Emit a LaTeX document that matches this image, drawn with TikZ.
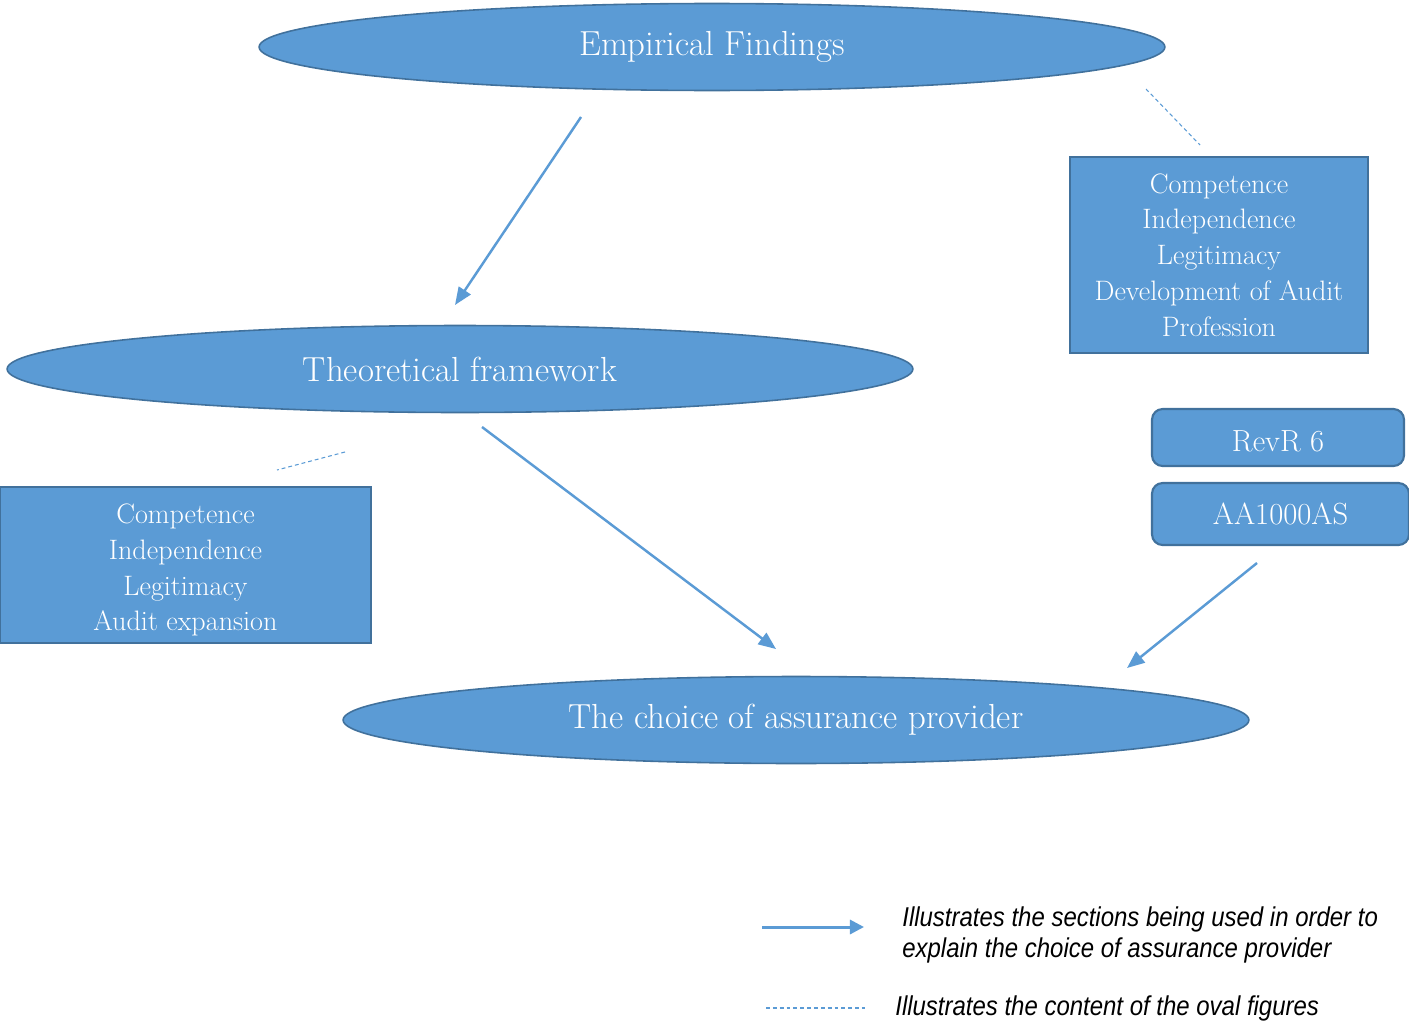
\documentclass[tikz,border=0pt]{standalone}
\usepackage{fontspec}
\newfontfamily\legendfont[FakeStretch=0.88]{Liberation Sans}
\usetikzlibrary{arrows.meta,shapes.geometric}
\definecolor{ovalblue}{HTML}{5B9BD5}
\definecolor{ovaledge}{HTML}{41719C}

\begin{document}
\begin{tikzpicture}[x=0.02cm, y=-0.02cm,
    oval/.style={ellipse, draw=ovaledge, line width=0.9pt, fill=ovalblue, text=white,
        minimum width=18.12cm, minimum height=1.74cm, inner sep=0pt,
        font=\fontsize{19.8}{22}\selectfont},
    box/.style={rectangle, draw=ovaledge, line width=1.2pt, fill=ovalblue, text=white,
        align=center, inner sep=0pt, font=\fontsize{16}{20.4}\selectfont},
    tag/.style={rectangle, rounded corners=6pt, draw=ovaledge, line width=1.2pt,
        fill=ovalblue, text=white, inner sep=0pt, font=\fontsize{17.4}{20}\selectfont},
    flow/.style={draw=ovalblue, line width=1.4pt, -{Triangle[length=10pt,width=8pt]}},
    content/.style={draw=ovalblue, line width=0.6pt, dash pattern=on 2.2pt off 1.7pt},
    legendtext/.style={anchor=west, align=left, inner sep=0pt,
        font=\legendfont\itshape\fontsize{15.5}{18}\selectfont},
]
    \useasboundingbox (0,0) rectangle (1409,1021);

    % Oval nodes
    \path
    (712, 47) node[oval] (EF) {Empirical Findings}
    (460, 369) node[oval] (TF) {Theoretical framework}
    (796, 720) node[oval] (CP) {The choice of assurance provider}
    ;

    % Content boxes
    \path
    (1219, 255) node[box, minimum width=5.96cm, minimum height=3.92cm] (EFbox)
        {Competence\\Independence\\Legitimacy\\Development of Audit\\Profession}
    (185.5, 565) node[box, minimum width=7.42cm, minimum height=3.12cm] (TFbox)
        {\rule{0pt}{17pt}Competence\\Independence\\Legitimacy\\Audit expansion}
    (1278, 437.5) node[tag, minimum width=5.04cm, minimum height=1.14cm] (RevR)
        {\rule{0pt}{16.5pt}RevR 6}
    (1280.5, 514) node[tag, minimum width=5.14cm, minimum height=1.24cm] (AA) {AA1000AS}
    ;

    % Arrow ends
    \coordinate (EFout) at (581, 117);
    \coordinate (TFin) at (455, 305);
    \coordinate (TFout) at (482, 427);
    \coordinate (CPin) at (776, 649);
    \coordinate (AAout) at (1257, 563);
    \coordinate (CPright) at (1127, 668);
    \coordinate (EFdash) at (1146, 89);
    \coordinate (EFboxdash) at (1200, 145);
    \coordinate (TFdash) at (345, 452);
    \coordinate (TFboxdash) at (277, 470);

    % Flow arrows
    \draw[flow] (EFout) -- (TFin);
    \draw[flow] (TFout) -- (CPin);
    \draw[flow] (AAout) -- (CPright);

    % Content lines
    \draw[content] (EFdash) -- (EFboxdash);
    \draw[content] (TFdash) -- (TFboxdash);

    % Legend
    \coordinate (L1a) at (762, 927);
    \coordinate (L1b) at (864, 927);
    \coordinate (L2a) at (766, 1008);
    \coordinate (L2b) at (865, 1008);
    \draw[draw=ovalblue, line width=1.7pt, -{Triangle[length=8pt,width=8pt]}] (L1a) -- (L1b);
    \draw[content] (L2a) -- (L2b);
    \node[legendtext] (L1text) at (902, 935)
        {Illustrates the sections being used in order to\\explain the choice of assurance provider};
    \node[legendtext] (L2text) at (895, 1008) {Illustrates the content of the oval figures};

\end{tikzpicture}
\end{document}
